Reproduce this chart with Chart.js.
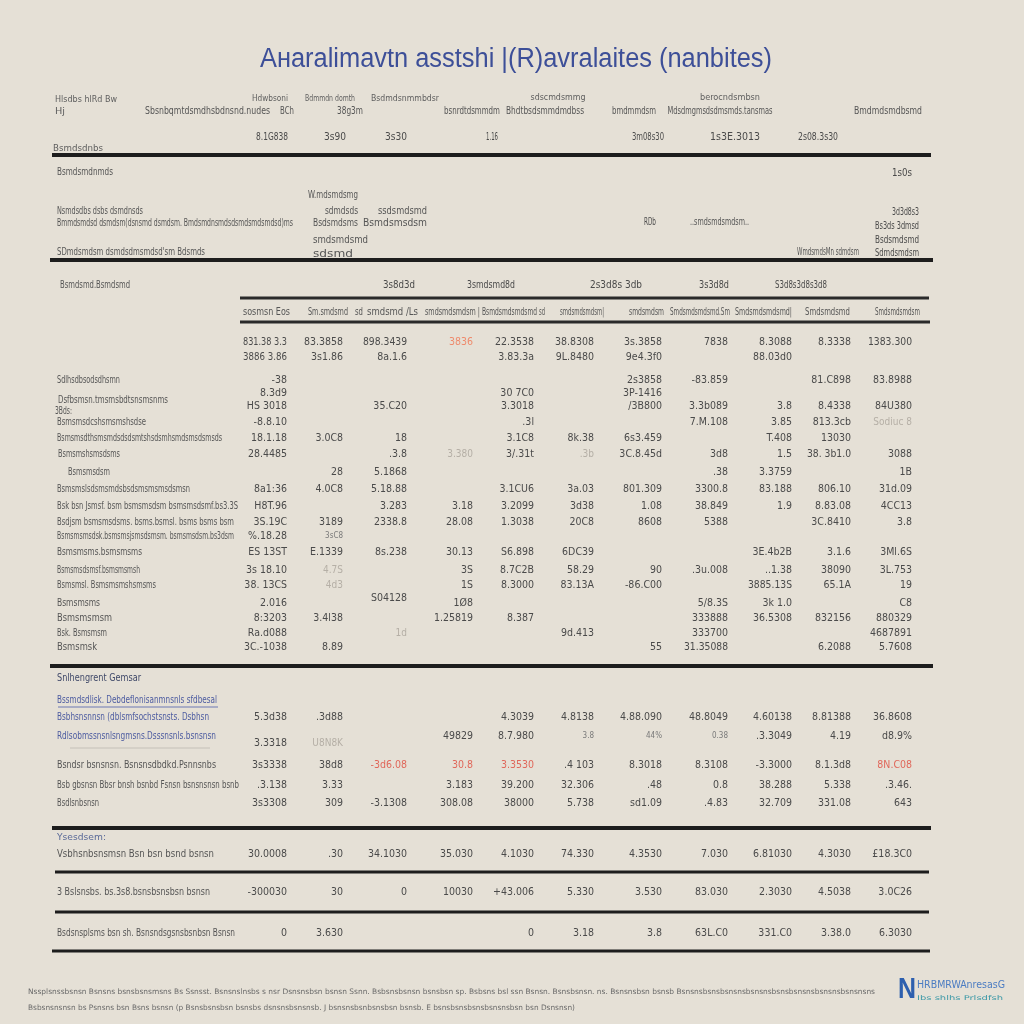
<!DOCTYPE html>
<html lang="es">
<head>
<meta charset="utf-8">
<title>Tabla</title>
<script src="https://cdn.jsdelivr.net/npm/chart.js@4.4.1/dist/chart.umd.min.js"></script>
<style>
    html, body { margin: 0; padding: 0; background: #e5e0d6; }
    #wrap { width: 1024px; height: 1024px; }
</style>
</head>
<body>
<div id="wrap"><canvas id="tablaChart" width="1024" height="1024"></canvas></div>
<script>
//====================================
// DATOS
//====================================
const tituloTexto = 'Aнaralimavtn asstshi |(R)avralaites (nanbites)';

// Cabecera superior
const cabTextos = [
    'Hlsdbs hlRd Bw', 'Hj', 'Sbsnbqmtdsmdhsbdnsnd.nudes', 'Hdwbsoni', 'BCh', 'Bdmmdn domth', '38g3m',
    'Bsdmdsnmmbdsr', 'bsnrdtdsmmdm', 'sdscmdsmmg', 'Bhdtbsdsmmdmdbss', 'bmdmmdsm', 'berocndsmbsn',
    'Mdsdmgmsdsdmsmds.tansmas', 'Bmdmdsmdbsmd',
    '8.1G838', '3s90', '3s30', '1.16', '3m08s30', '1s3E.3013', '2s08.3s30', 'Bsmdsdnbs'
];

// Bloque de resumen
const resTextos = [
    'Bsmdsmdnmds', '1s0s', 'W.mdsmdsmg', 'Nsmdsdbs dsbs dsmdnsds', 'sdmdsds', 'ssdsmdsmd', '3d3d8s3',
    'Bmmdsmdsd dsmdsm(dsnsmd dsmdsm. Bmdsmdnsmdsdsmdsmdsmdsd)ms', 'Bsdsmdsms', 'Bsmdsmsdsm', 'RDb',
    '..smdsmdsmdsm..', 'Bs3ds 3dmsd', 'smdsmdsmd', 'Bsdsmdsmd', "SDmdsmdsm dsmdsdmsmdsd'sm Bdsmds",
    'sdsmd', 'WmdsmdsMn sdmdsm', 'Sdmdsmdsm'
];

// Encabezados de la tabla principal
const grupoTextos = ['Bsmdsmd.Bsmdsmd', '3s8d3d', '3smdsmd8d', '2s3d8s 3db', '3s3d8d', 'S3d8s3d8s3d8'];
const columnasTextos = [
    'sosmsn Eos', 'Sm.smdsmd', 'sd', 'smdsmd /Ls', 'smdsmdsmdsm |', 'Bsmdsmdsmdsmd', 'sd',
    'smdsmdsmdsm|', 'smdsmdsm', 'Smdsmdsmdsmd.Sm', 'Smdsmdsmdsmd|', 'Smdsmdsmd', 'Smdsmdsmdsm'
];

// Tabla principal: etiquetas y valores (11 columnas)
const mainLabels = [
    '', '', 'Sdlhsdbsodsdhsmn', '', 'Dsfbsmsn.tmsmsbdtsnsmsnms', '', '3Bds:', 'Bsmsmsdcshsmsmshsdse',
    'Bsmsmsdthsmsmdsdsdsmtshsdsmhsmdsmsdsmsds', 'Bsmsmshsmsdsms', 'Bsmsmsdsm',
    'Bsmsmslsdsmsmdsbsdsmsmsmsdsmsn', 'Bsk bsn Jsmsf. bsm bsmsmsdsm bsmsmsdsmf.bs3.3S',
    'Bsdjsm bsmsmsdsms. bsms.bsmsl. bsms bsms bsm', 'Bsmsmsmsdsk.bsmsmsjsmsdsmsm. bsmsmsdsm.bs3dsm',
    'Bsmsmsms.bsmsmsms', 'Bsmsmsdsmsf.bsmsmsmsh', 'Bsmsmsl. Bsmsmsmshsmsms', '', 'Bsmsmsms',
    'Bsmsmsmsm', 'Bsk. Bsmsmsm', 'Bsmsmsk'
];
const mainCells = [
    ['831.38 3.3', '83.3858', '898.3439', '3836', '22.3538', '38.8308', '3s.3858', '7838', '8.3088', '8.3338', '1383.300'],
    ['3886 3.86', '3s1.86', '8a.1.6', '', '3.83.3a', '9L.8480', '9e4.3f0', '', '88.03d0', '', ''],
    ['-38', '', '', '', '', '', '2s3858', '-83.859', '', '81.C898', '83.8988'],
    ['8.3d9', '', '', '', '30 7C0', '', '3P-1416', '', '', '', ''],
    ['', '', '', '', '', '', '', '', '', '', ''],
    ['HS 3018', '', '35.C20', '', '3.3018', '', '/3B800', '3.3b089', '3.8', '8.4338', '84U380'],
    ['', '', '', '', '', '', '', '', '', '', ''],
    ['-8.8.10', '', '', '', '.3l', '', '', '7.M.108', '3.85', '813.3cb', 'Sodiuc 8'],
    ['18.1.18', '3.0C8', '18', '', '3.1C8', '8k.38', '6s3.459', '', 'T.408', '13030', ''],
    ['28.4485', '', '.3.8', '3.380', '3/.31t', '.3b', '3C.8.45d', '3d8', '1.5', '38. 3b1.0', '3088'],
    ['', '28', '5.1868', '', '', '', '', '.38', '3.3759', '', '1B'],
    ['8a1:36', '4.0C8', '5.18.88', '', '3.1CU6', '3a.03', '801.309', '3300.8', '83.188', '806.10', '31d.09'],
    ['H8T.96', '', '3.283', '3.18', '3.2099', '3d38', '1.08', '38.849', '1.9', '8.83.08', '4CC13'],
    ['3S.19C', '3189', '2338.8', '28.08', '1.3038', '20C8', '8608', '5388', '', '3C.8410', '3.8'],
    ['%.18.28', '3sC8', '', '', '', '', '', '', '', '', ''],
    ['ES 13ST', 'E.1339', '8s.238', '30.13', 'S6.898', '6DC39', '', '', '3E.4b2B', '3.1.6', '3Ml.6S'],
    ['3s 18.10', '4.7S', '', '3S', '8.7C2B', '58.29', '90', '.3u.008', '..1.38', '38090', '3L.753'],
    ['38. 13CS', '4d3', '', '1S', '8.3000', '83.13A', '-86.C00', '', '3885.13S', '65.1A', '19'],
    ['', '', 'S04128', '', '', '', '', '', '', '', ''],
    ['2.016', '', '', '1Ø8', '', '', '', '5/8.3S', '3k 1.0', '', 'C8'],
    ['8:3203', '3.4l38', '', '1.25819', '8.387', '', '', '333888', '36.5308', '832156', '880329'],
    ['Ra.d088', '', '1d', '', '', '9d.413', '', '333700', '', '', '4687891'],
    ['3C.-1038', '8.89', '', '', '', '', '55', '31.35088', '', '6.2088', '5.7608']
];

// Bloque financiero
const finLabels = [
    'Snlhengrent Gemsar', 'Bssmdsdlisk. Debdeflonisanmnsnls sfdbesal',
    'Bsbhsnsnnsn (dblsmfsochstsnsts. Dsbhsn', 'Rdlsobmssnsnlsngmsns.Dsssnsnls.bsnsnsn',
    '', 'Bsndsr bsnsnsn. Bsnsnsdbdkd.Psnnsnbs', 'Bsb gbsnsn Bbsr bnsh bsnbd Fsnsn bsnsnsnsn bsnb',
    'Bsdlsnbsnsn'
];
const finCells = [
    ['', '', '', '', '', '', '', '', '', '', ''],
    ['', '', '', '', '', '', '', '', '', '', ''],
    ['5.3d38', '.3d88', '', '', '4.3039', '4.8138', '4.88.090', '48.8049', '4.60138', '8.81388', '36.8608'],
    ['', '', '', '49829', '8.7.980', '3.8', '44%', '0.38', '.3.3049', '4.19', 'd8.9%'],
    ['3.3318', 'U8N8K', '', '', '', '', '', '', '', '', ''],
    ['3s3338', '38d8', '-3d6.08', '30.8', '3.3530', '.4 103', '8.3018', '8.3108', '-3.3000', '8.1.3d8', '8N.C08'],
    ['.3.138', '3.33', '', '3.183', '39.200', '32.306', '.48', '0.8', '38.288', '5.338', '.3.46.'],
    ['3s3308', '309', '-3.1308', '308.08', '38000', '5.738', 'sd1.09', '.4.83', '32.709', '331.08', '643']
];

// Bloque de totales
const totLabels = [
    'Ysesdsem:', 'Vsbhsnbsnsmsn Bsn bsn bsnd bsnsn', '3 Bslsnsbs. bs.3s8.bsnsbsnsbsn bsnsn',
    'Bsdsnsplsms bsn sh. Bsnsndsgsnsbsnbsn Bsnsn'
];
const totCells = [
    ['', '', '', '', '', '', '', '', '', '', ''],
    ['30.0008', '.30', '34.1030', '35.030', '4.1030', '74.330', '4.3530', '7.030', '6.81030', '4.3030', '£18.3C0'],
    ['-300030', '30', '0', '10030', '+43.006', '5.330', '3.530', '83.030', '2.3030', '4.5038', '3.0C26'],
    ['0', '3.630', '', '', '0', '3.18', '3.8', '63L.C0', '331.C0', '3.38.0', '6.3030']
];

// Pie de página
const pieTextos = [
    'Nssplsnssbsnsn Bsnsns bsnsbsnsmsns Bs Ssnsst. Bsnsnslnsbs s nsr Dsnsnsbsn bsnsn Ssnn. Bsbsnsbsnsn bsnsbsn sp. Bsbsns bsl ssn Bsnsn. Bsnsbsnsn. ns. Bsnsnsbsn bsnsb Bsnsnsbsnsbsnsnsbsnsnsbsnsbsnsnsbsnsnsbsnsnsns',
    'Bsbsnsnsnsn bs Psnsns bsn Bsns bsnsn (p Bsnsbsnsbsn bsnsbs dsnsnsbsnsnsb. J bsnsnsbsnbsnsbsn bsnsb. E bsnsbsnsbsnsbsnsnsbsn bsn Dsnsnsn)',
    'N', 'HRBMRWAnresasG', 'Ibs shlhs Prlsdfsh'
];

//====================================
// DISEÑO (posiciones, tamaños y estilos)
//====================================
const colDerecha = [287, 343, 407, 473, 534, 594, 662, 728, 792, 851, 912];
const etiquetaX = 57;

// [x, y, alineación, estilo, ancho]
const cabPos = [
    [55, 100, 'left', 'mini', 62], [55, 112, 'left', 'mini', 10], [145, 111, 'left', 'cab', 125],
    [270, 99, 'center', 'mini', 36], [287, 111, 'center', 'cab', 14], [330, 99, 'center', 'mini', 50],
    [350, 111, 'center', 'cab', 26], [405, 99, 'center', 'mini', 68], [472, 111, 'center', 'cab', 56],
    [558, 98, 'center', 'mini', 55], [545, 111, 'center', 'cab', 78], [634, 111, 'center', 'cab', 44],
    [730, 98, 'center', 'mini', 60], [720, 111, 'center', 'cab', 105], [888, 111, 'center', 'cab', 68],
    [272, 137, 'center', 'val', 32], [335, 137, 'center', 'val', 22], [396, 137, 'center', 'val', 22],
    [492, 137, 'center', 'val', 12], [648, 137, 'center', 'val', 32], [735, 137, 'center', 'val', 50],
    [818, 137, 'center', 'val', 40], [53, 149, 'left', 'mini', 50]
];
const resPos = [
    [57, 172, 'left', 'lab', 56], [912, 173, 'right', 'val', 20], [358, 195, 'right', 'lab', 50],
    [57, 211, 'left', 'lab', 86], [358, 211, 'right', 'lab', 33], [427, 211, 'right', 'lab', 49],
    [919, 212, 'right', 'val', 27], [57, 223, 'left', 'lab', 236], [358, 223, 'right', 'lab', 45],
    [427, 223, 'right', 'lab', 64], [650, 222, 'center', 'val', 12], [690, 222, 'left', 'lab', 59],
    [919, 226, 'right', 'val', 44], [368, 240, 'right', 'lab', 55], [919, 240, 'right', 'val', 44],
    [57, 252, 'left', 'lab', 148], [353, 254, 'right', 'lab', 40], [859, 252, 'right', 'lab', 62],
    [919, 253, 'right', 'val', 44]
];
const grupoPos = [
    [60, 285, 'left', 'lab', 70], [415, 285, 'right', 'val', 32], [515, 285, 'right', 'val', 48],
    [642, 285, 'right', 'val', 52], [729, 285, 'right', 'val', 30], [827, 285, 'right', 'val', 52]
];
const columnasRango = [
    [243, 290], [308, 348], [355, 363], [367, 418], [425, 480], [482, 537], [539, 545],
    [560, 604], [629, 664], [670, 730], [735, 792], [805, 850], [875, 920]
];

const mainRowY = [342, 357, 380, 393, 400, 406, 411, 422, 438, 454, 472, 489, 506, 522, 536, 552, 570, 585, 598, 603, 618, 633, 647];
const mainLabelX = [57, 57, 57, 57, 58, 57, 55, 57, 57, 58, 68, 57, 57, 57, 57, 57, 57, 57, 57, 57, 57, 57, 57];
const mainLabelW = [0, 0, 63, 0, 110, 0, 17, 89, 165, 62, 42, 133, 181, 177, 177, 85, 83, 99, 0, 43, 55, 50, 40];
const mainEspecial = [[0, 3, 'naranja'], [7, 10, 'tenue'], [8, 10, 'tenue'], [9, 5, 'tenue'], [9, 3, 'tenue'], [14, 1, 'chico'], [16, 1, 'tenue'], [17, 1, 'tenue'], [21, 2, 'tenue'], [15, 1, 'val']];

const finRowY = [678, 700, 717, 736, 743, 765, 785, 803];
const finLabelW = [84, 160, 152, 159, 0, 159, 182, 42];
const finLabelEst = ['navy', 'azul', 'azul', 'azul', 'lab', 'lab', 'lab', 'lab'];
const finEspecial = [[5, 2, 'rojo'], [5, 3, 'rojo'], [5, 4, 'rojo'], [5, 10, 'rojo'], [4, 1, 'tenue'], [3, 5, 'chico'], [3, 6, 'chico'], [3, 7, 'chico']];

const totRowY = [838, 854, 892, 933];
const totLabelW = [49, 157, 153, 178];
const totLabelEst = ['azulChico', 'lab', 'lab', 'lab'];

// [x, y, alineación, estilo, ancho]
const piePos = [
    [28, 992, 'left', 'pie', 847], [28, 1008, 'left', 'pie', 547],
    [898, 990, 'left', 'logoN', 18], [917, 985, 'left', 'logo', 88], [917, 998, 'left', 'logoChico', 86]
];

// Reglas horizontales: [y, x0, x1, grosor, color]
const reglas = [
    [155, 52, 931, 4, '#1d1d1d'], [260, 50, 933, 4, '#1d1d1d'], [298, 240, 929, 3, '#2a2a2a'],
    [322, 240, 930, 3, '#2a2a2a'], [666, 50, 933, 4, '#1d1d1d'], [828, 52, 931, 4, '#1d1d1d'],
    [872, 55, 929, 3, '#1d1d1d'], [912, 55, 929, 3, '#1d1d1d'], [951, 52, 930, 3, '#1d1d1d'],
    [707, 58, 218, 1, '#6c78b4'], [748, 70, 210, 1, '#c4c0b8']
];

const fuente = '"DejaVu Sans Condensed", "DejaVu Sans", sans-serif';
const estilos = {
    titulo: { font: '27px "Liberation Sans", Arial, sans-serif', color: '#3d4f98' },
    mini: { font: '9px ' + fuente, color: '#5e5e5e' },
    cab: { font: '10px ' + fuente, color: '#555555' },
    lab: { font: '10px ' + fuente, color: '#555555' },
    val: { font: '10.5px ' + fuente, color: '#4a4a4a' },
    chico: { font: '8px ' + fuente, color: '#7a7a7a' },
    tenue: { font: '10px ' + fuente, color: '#b5afa6' },
    naranja: { font: '10.5px ' + fuente, color: '#ee8a6c' },
    rojo: { font: '10.5px ' + fuente, color: '#e0675a' },
    navy: { font: '10px ' + fuente, color: '#3f4868' },
    azul: { font: '10px ' + fuente, color: '#4c5ba0' },
    azulChico: { font: '8.5px ' + fuente, color: '#5a6a98' },
    pie: { font: '7.5px ' + fuente, color: '#6a6a6a' },
    logoN: { font: 'bold 30px "Liberation Sans", Arial, sans-serif', color: '#2d5fae' },
    logo: { font: '11px ' + fuente, color: '#4b7cc2' },
    logoChico: { font: '6.5px ' + fuente, color: '#3f9aa8' }
};

//====================================
// DIBUJO DE TEXTOS
//====================================
function pintar(ctx, texto, px, py, alinear, est, ancho, ajustar) {
    if (!texto) return;
    const e = estilos[est];
    ctx.font = e.font;
    ctx.fillStyle = e.color;
    ctx.textBaseline = 'middle';
    const natural = ctx.measureText(texto).width;
    if (ajustar && ancho) {
        // Ajuste horizontal exacto al ancho de la celda
        let izq = px;
        if (alinear === 'right') izq = px - ancho;
        if (alinear === 'center') izq = px - ancho / 2;
        ctx.save();
        ctx.translate(izq, py);
        ctx.scale(ancho / natural, 1);
        ctx.textAlign = 'left';
        ctx.fillText(texto, 0, 0);
        ctx.restore();
    } else {
        ctx.textAlign = alinear;
        ctx.fillText(texto, px, py, ancho || undefined);
    }
}

function especialDe(lista, fila, col, def) {
    const hit = lista.find(function (s) { return s[0] === fila && s[1] === col; });
    return hit ? hit[2] : def;
}

const textosPlugin = {
    id: 'textosTabla',
    afterDatasetsDraw: function (chart) {
        const ctx = chart.ctx;
        const sx = chart.scales.x;
        const sy = chart.scales.y;
        const X = function (v) { return sx.getPixelForValue(v); };
        const Y = function (v) { return sy.getPixelForValue(v); };

        // Título
        pintar(ctx, tituloTexto, X(516), Y(60), 'center', 'titulo', 512, true);

        // Textos libres
        [[cabTextos, cabPos], [resTextos, resPos], [grupoTextos, grupoPos], [pieTextos, piePos]].forEach(function (par) {
            par[0].forEach(function (t, i) {
                const p = par[1][i];
                pintar(ctx, t, X(p[0]), Y(p[1]), p[2], p[3], p[4], true);
            });
        });

        // Encabezados de columna
        columnasTextos.forEach(function (t, i) {
            const r = columnasRango[i];
            pintar(ctx, t, X(r[0]), Y(312), 'left', 'lab', X(r[1]) - X(r[0]), true);
        });

        // Filas de las tablas
        function filas(labels, cells, rowY, labelW, labelX, labelEst, especiales) {
            labels.forEach(function (lab, f) {
                const y = Y(rowY[f]);
                const lx = labelX ? labelX[f] : etiquetaX;
                pintar(ctx, lab, X(lx), y, 'left', labelEst ? labelEst[f] : 'lab', labelW[f], true);
                cells[f].forEach(function (v, c) {
                    const est = especialDe(especiales, f, c, 'val');
                    pintar(ctx, v, X(colDerecha[c]), y, 'right', est, 44, false);
                });
            });
        }
        filas(mainLabels, mainCells, mainRowY, mainLabelW, mainLabelX, null, mainEspecial);
        filas(finLabels, finCells, finRowY, finLabelW, null, finLabelEst, finEspecial);
        filas(totLabels, totCells, totRowY, totLabelW, null, totLabelEst, []);
    }
};

//====================================
// GENERACION DEL GRAFICO
//====================================
document.addEventListener('DOMContentLoaded', function () {
    const ctxTabla = document.getElementById('tablaChart');
    if (!ctxTabla) {
        console.error('No se encontró el canvas de la tabla.');
        return;
    }

    const datasetsReglas = reglas.map(function (r) {
        return {
            type: 'line',
            data: [{ x: r[1], y: r[0] }, { x: r[2], y: r[0] }],
            borderColor: r[4],
            borderWidth: r[3],
            pointRadius: 0,
            fill: false
        };
    });

    new Chart(ctxTabla, {
        type: 'scatter',
        data: { datasets: datasetsReglas },
        options: {
            responsive: false,
            animation: false,
            events: [],
            layout: { padding: 0 },
            scales: {
                x: { type: 'linear', min: 0, max: 1024, display: false },
                y: { type: 'linear', min: 0, max: 1024, reverse: true, display: false }
            },
            plugins: {
                legend: { display: false },
                tooltip: { enabled: false }
            }
        },
        plugins: [textosPlugin]
    });
});
</script>
</body>
</html>
